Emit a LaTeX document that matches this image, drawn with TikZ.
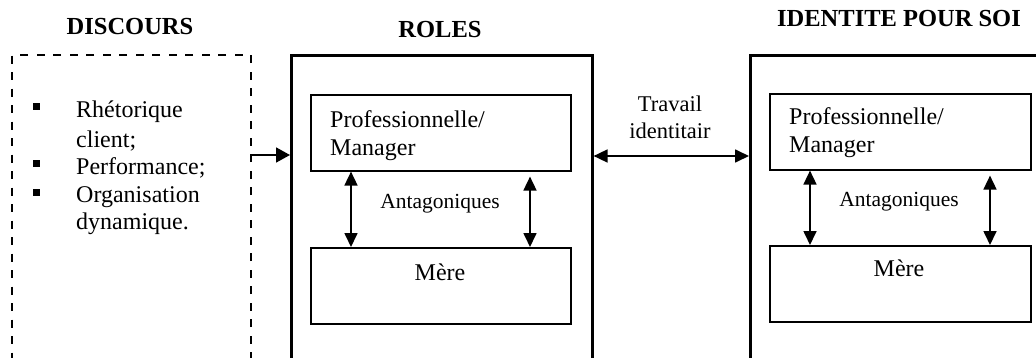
\documentclass[tikz,border=0pt]{standalone}
\usepackage{fontspec}
\setmainfont{Liberation Serif}
\usetikzlibrary{arrows.meta}
\tikzset{
  outerbox/.style={draw, line width=2.6pt, rectangle, inner sep=0pt, anchor=north west},
  innerbox/.style={draw, line width=1.6pt, rectangle, inner sep=0pt, anchor=north west},
  dashbox/.style={draw, line width=2.4pt, dash pattern=on 8pt off 8.5pt, rectangle, inner sep=0pt, anchor=north west},
  arr/.style={line width=1.7pt, -{Triangle[length=14pt,width=15pt]}},
  darr/.style={line width=1.7pt, {Triangle[length=14pt,width=13pt]}-{Triangle[length=14pt,width=13pt]}},
  title/.style={font=\fontsize{24.5}{29}\selectfont\bfseries, inner sep=0pt},
  body/.style={font=\fontsize{24}{29}\selectfont, inner sep=0pt, align=left},
  small/.style={font=\fontsize{21.5}{25}\selectfont, inner sep=0pt},
  bullet/.style={fill, rectangle, minimum size=7pt, inner sep=0pt}
}
\begin{document}
\begin{tikzpicture}[x=1pt,y=1pt]
\useasboundingbox (0,0) rectangle (1036,357);
\clip (0,0) rectangle (1036,357);
% titles
\node[title] (t1) at (130,330) {DISCOURS};
\node[title] (t2) at (440,327) {ROLES};
\node[title] (t3) at (899,338) {IDENTITE POUR SOI};
% outer boxes
\node[dashbox, minimum width=239pt, minimum height=330pt] (disc) at (11,303) {};
\node[outerbox, minimum width=301pt, minimum height=330pt] (roles) at (290,303) {};
\node[outerbox, minimum width=320pt, minimum height=330pt] (ident) at (749,303) {};
% bullets
\node[bullet] (b1) at (36,251) {};
\node[bullet] (b2) at (36,194) {};
\node[bullet] (b3) at (36,165) {};
\node[body, anchor=base west] (l1) at (76,240) {Rhétorique};
\node[body, anchor=base west] (l2) at (76,210) {client;};
\node[body, anchor=base west] (l3) at (76,183) {Performance;};
\node[body, anchor=base west] (l4) at (76,155) {Organisation};
\node[body, anchor=base west] (l5) at (76,128) {dynamique.};
% inner boxes ROLES
\node[innerbox, minimum width=260pt, minimum height=76pt] (pm1) at (310,263) {};
\node[innerbox, minimum width=260pt, minimum height=76pt] (mere1) at (310,110) {};
\node[body, anchor=base west] (pm1a) at (330,230) {Professionnelle/};
\node[body, anchor=base west] (pm1b) at (330,202) {Manager};
\node[body] (mere1t) at (440,85) {Mère};
\node[small] (ant1) at (440,153) {Antagoniques};
% inner boxes IDENT
\node[innerbox, minimum width=261pt, minimum height=76pt] (pm2) at (769,264) {};
\node[innerbox, minimum width=261pt, minimum height=76pt] (mere2) at (769,112) {};
\node[body, anchor=base west] (pm2a) at (789,233) {Professionnelle/};
\node[body, anchor=base west] (pm2b) at (789,205) {Manager};
\node[body] (mere2t) at (899,89) {Mère};
\node[small] (ant2) at (899,155) {Antagoniques};
% travail
\node[font=\fontsize{22.5}{27}\selectfont, align=center, inner sep=0pt] (trav) at (670,240) {Travail\\identitair};
% connectors
\coordinate (ya) at (0,202);
\coordinate (yb) at (0,201);
\draw[arr] (disc.east |- ya) -- (roles.west |- ya);
\draw[darr] (roles.east |- yb) -- (ident.west |- yb);
\coordinate (x1) at (351,0);
\coordinate (x2) at (530,0);
\coordinate (x3) at (810,0);
\coordinate (x4) at (990,0);
\draw[darr] (pm1.south -| x1) -- (mere1.north -| x1);
\draw[darr, shorten <=5pt] (pm1.south -| x2) -- (mere1.north -| x2);
\draw[darr] (pm2.south -| x3) -- (mere2.north -| x3);
\draw[darr, shorten <=5pt] (pm2.south -| x4) -- (mere2.north -| x4);
\end{tikzpicture}
\end{document}
